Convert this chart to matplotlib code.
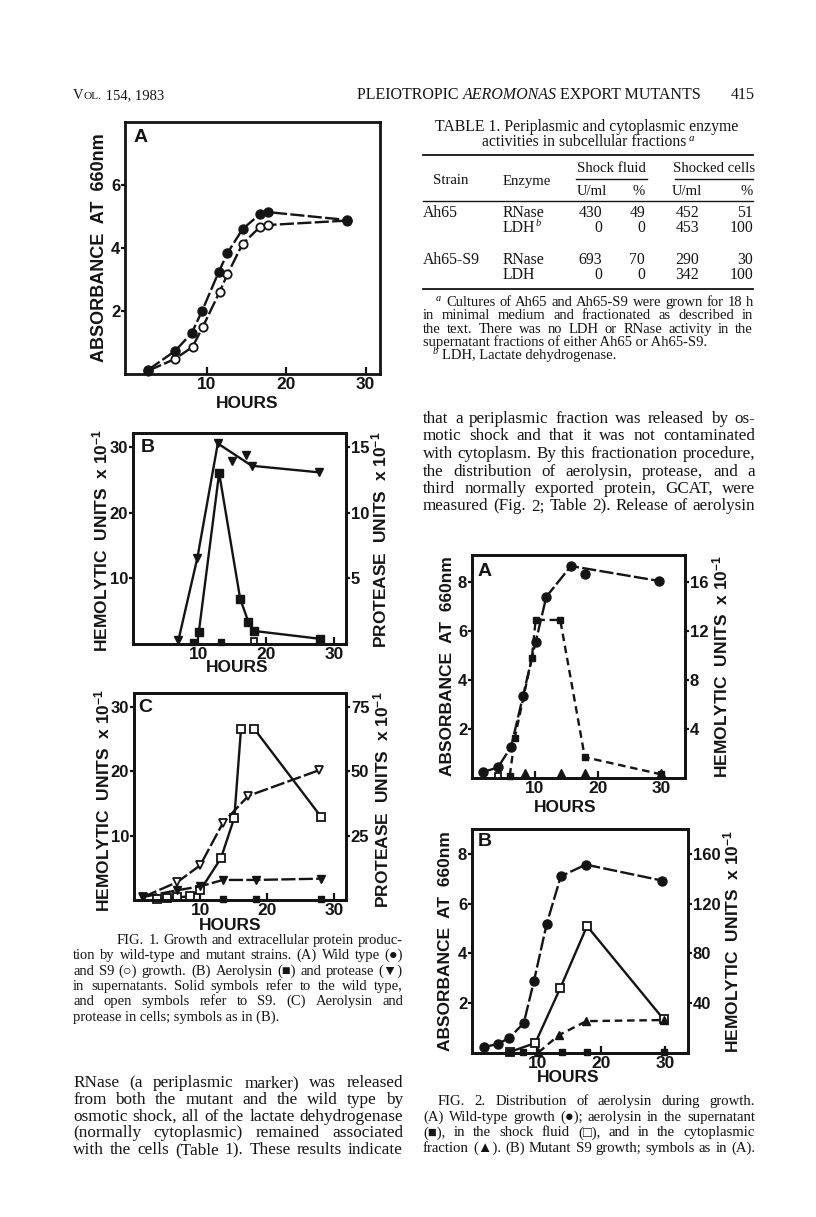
import matplotlib
matplotlib.use('Agg')
import matplotlib.pyplot as plt
from matplotlib.font_manager import FontProperties
from matplotlib.lines import Line2D

# ---------------- data ----------------
# Fig. 1A : growth, absorbance at 660 nm
f1a_x_wt = [2.6, 6.0, 8.1, 9.4, 11.5, 12.6, 14.5, 16.7, 17.7, 27.6]
f1a_y_wt = [0.13, 0.73, 1.3, 2.0, 3.24, 3.84, 4.6, 5.08, 5.14, 4.89]
f1a_x_s9 = [2.6, 6.0, 8.2, 9.5, 11.6, 12.6, 14.5, 16.7, 17.7, 27.6]
f1a_y_s9 = [0.1, 0.48, 0.86, 1.5, 2.6, 3.17, 4.13, 4.67, 4.73, 4.87]

# Fig. 1B : supernatants (aerolysin = hemolytic units, protease = right axis)
f1b_x_aero = [10.1, 13.1, 16.2, 17.4, 18.2, 27.9]
f1b_y_aero = [1.8, 26.1, 6.9, 3.4, 2.0, 0.8]
f1b_x_aero0 = [9.3, 13.4]
f1b_y_aero0 = [0.3, 0.3]
f1b_x_aero_s9 = [18.2]
f1b_y_aero_s9 = [0.4]
f1b_x_prot = [7.1, 9.9, 12.9, 17.9, 27.8]
f1b_y_prot = [0.3, 6.6, 15.3, 13.6, 13.1]
f1b_x_prot_extra = [15.0, 17.1]
f1b_y_prot_extra = [14.0, 14.4]

# Fig. 1C : cells
f1c_x_aero_s9 = [3.5, 5.0, 6.6, 8.5, 10.0, 13.1, 15.1, 16.1, 18.1, 28.1]
f1c_y_aero_s9 = [0.2, 0.3, 0.4, 0.6, 1.5, 6.5, 12.8, 26.6, 26.6, 12.9]
f1c_break = 8
f1c_x_aero_wt = [13.4, 18.4, 28.1]
f1c_y_aero_wt = [0.2, 0.2, 0.2]
f1c_x_prot_s9 = [1.5, 6.6, 10.0, 13.4, 17.2, 27.8]
f1c_y_prot_s9 = [1.2, 7.0, 13.5, 30.0, 40.5, 50.5]
f1c_x_prot_wt = [1.5, 6.6, 10.0, 13.4, 18.4, 28.1]
f1c_y_prot_wt = [1.2, 3.8, 5.3, 7.8, 7.8, 8.3]

# Fig. 2A : wild type
f2a_x_growth = [1.8, 4.1, 6.2, 8.1, 10.1, 11.8, 15.7, 29.7]
f2a_y_growth = [0.25, 0.43, 1.27, 3.35, 5.55, 7.4, 8.65, 8.04]
f2a_x_growth_extra = [17.9]
f2a_y_growth_extra = [8.33]
f2a_x_super = [6.0, 6.8, 9.5, 10.1, 14.0, 17.9, 30.0]
f2a_y_super = [0.2, 3.3, 9.8, 12.9, 12.9, 1.7, 0.3]
f2a_x_shock = [4.1]
f2a_y_shock = [0.2]
f2a_x_cyto = [8.4, 14.1, 17.9, 30.0]
f2a_y_cyto = [0.4, 0.4, 0.4, 0.4]

# Fig. 2B : mutant S9
f2b_x_growth = [1.7, 3.8, 5.6, 7.9, 9.5, 11.5, 13.7, 17.6, 29.5]
f2b_y_growth = [0.24, 0.36, 0.6, 1.2, 2.9, 5.2, 7.1, 7.57, 6.93]
f2b_x_shock = [5.8, 9.7, 13.6, 17.8, 29.8]
f2b_y_shock = [1.0, 8.0, 52.0, 102.0, 27.0]
f2b_x_cyto = [10.2, 13.4, 17.7, 29.8]
f2b_y_cyto = [0.5, 14.4, 25.6, 26.5]
f2b_x_super = [5.8, 7.8, 13.9, 17.8, 29.8]
f2b_y_super = [0.8, 0.8, 0.8, 0.8, 0.8]

# Table 1
tab_strain = ['Ah65', '', 'Ah65-S9', '']
tab_enzyme = ['RNase', 'LDH', 'RNase', 'LDH']
tab_shock_u = ['430', '0', '693', '0']
tab_shock_p = ['49', '0', '70', '0']
tab_cells_u = ['452', '453', '290', '342']
tab_cells_p = ['51', '100', '30', '100']

hour_ticks = [10, 20, 30]

# ---------------- page ----------------
W, H = 816, 1217
plt.rcParams['font.family'] = ['Liberation Sans', 'DejaVu Sans']
plt.rcParams['font.weight'] = 'bold'
plt.rcParams['mathtext.fontset'] = 'custom'
plt.rcParams['mathtext.rm'] = 'Liberation Sans:bold'
plt.rcParams['mathtext.bf'] = 'Liberation Sans:bold'
plt.rcParams['mathtext.it'] = 'Liberation Sans:bold'

fig = plt.figure(figsize=(W / 100, H / 100), dpi=100)
fig.patch.set_facecolor('white')
renderer = fig.canvas.get_renderer()

SERIF = ['Liberation Serif', 'DejaVu Serif', 'DejaVu Sans']
INK = '#141414'


def fp(size, style='normal', weight='normal'):
    return FontProperties(family=SERIF, size=size, style=style, weight=weight)


def width(s, prop):
    return renderer.get_text_width_height_descent(s, prop, ismath=False)[0]


def fit(s, target, style='normal'):
    # font size that makes s span target pixels
    return 10 * target / width(s, fp(10, style))


def put(x, y, s, prop, ha='left'):
    fig.text(x / W, 1 - y / H, s, fontproperties=prop, ha=ha, va='baseline', color=INK)


def para(lines, x0, x1, y0, lead, indent=0, last_full=False, shrink=0.99):
    full = [i for i in range(len(lines)) if i < len(lines) - 1 or last_full]
    size = min(10 * (x1 - x0 - (indent if i == 0 else 0)) / width(lines[i], fp(10))
               for i in full) * shrink
    prop = fp(size)
    for i, line in enumerate(lines):
        y = y0 + i * lead
        start = x0 + (indent if i == 0 else 0)
        words = line.split()
        if i not in full or len(words) < 2:
            put(start, y, line, prop)
            continue
        ws = [width(w, prop) for w in words]
        gap = (x1 - start - sum(ws)) / (len(words) - 1)
        x = start
        for w, wd in zip(words, ws):
            put(x, y, w, prop)
            x += wd + gap
    return size


def hline(x0, x1, y, lw=1.0):
    fig.add_artist(Line2D([x0 / W, x1 / W], [1 - y / H, 1 - y / H],
                          transform=fig.transFigure, color=INK, lw=lw))


def sans(x, y, s, size, rot=0):
    fig.text(x / W, 1 - y / H, s, fontsize=size, fontweight='bold', rotation=rot,
             ha='center', va='center', color=INK)


def frame(box, xlim, ylim, yticks, rlim=None, rticks=None):
    l, t, r, b = box
    ax = fig.add_axes([l / W, 1 - b / H, (r - l) / W, (b - t) / H])
    ax.set_xlim(xlim)
    ax.set_ylim(ylim)
    ax.set_xticks(hour_ticks)
    ax.set_yticks(yticks)
    for s in ax.spines.values():
        s.set_linewidth(2.0)
        s.set_color(INK)
    ax.tick_params(axis='x', direction='in', length=5, width=1.6, pad=2, labelsize=12.5, colors=INK)
    ax.tick_params(axis='y', direction='out', length=3, width=1.6, pad=0.5, labelsize=12, colors=INK)
    ax2 = None
    if rlim is not None:
        ax2 = ax.twinx()
        ax2.set_ylim(rlim)
        ax2.set_yticks(rticks)
        for s in ax2.spines.values():
            s.set_linewidth(2.0)
            s.set_color(INK)
        ax2.tick_params(axis='y', direction='out', length=3, width=1.6, pad=0.5, labelsize=12, colors=INK)
    return ax, ax2


filled = dict(color=INK, mfc=INK, mec=INK, lw=1.7, clip_on=False)
opened = dict(color=INK, mfc='white', mec=INK, mew=1.3, lw=1.7, clip_on=False)
LONG = (6, 1.4)
MID = (3.2, 2.0)

# ----- header -----
vs = 10.5
put(73, 99, 'V', fp(vs))
put(73 + width('V', fp(vs)), 99, 'OL.', fp(vs * 0.78))
put(73 + width('V', fp(vs)) + width('OL.', fp(vs * 0.78)), 99, ' 154, 1983', fp(vs))
head = [('PLEIOTROPIC ', 'normal'), ('AEROMONAS', 'italic'), (' EXPORT MUTANTS', 'normal')]
hs = 10 * 346 / sum(width(p, fp(10, st)) for p, st in head)
hx = 357
for piece, st in head:
    put(hx, 99, piece, fp(hs, st))
    hx += width(piece, fp(hs, st))
put(755, 99, '415', fp(hs), ha='right')

# ----- Fig 1A -----
ax, _ = frame((125, 122, 380, 374), (-0.3, 31.8), (0, 8), [2, 4, 6])
ax.plot(f1a_x_s9, f1a_y_s9, marker='o', ms=6, dashes=LONG, **opened)
ax.plot(f1a_x_wt, f1a_y_wt, marker='o', ms=6.5, dashes=LONG, **filled)
sans(141, 137, 'A', 14)
sans(99, 248, 'ABSORBANCE  AT  660nm', 13, 90)
sans(247, 404, 'HOURS', 12.5)

# ----- Fig 1B -----
ax, ax2 = frame((133, 433, 346, 644), (0.4, 31.8), (0, 32.2), [10, 20, 30],
                (0, 16.1), [5, 10, 15])
ax.plot(f1b_x_aero, f1b_y_aero, marker='s', ms=5.5, **filled)
ax.plot(f1b_x_aero0, f1b_y_aero0, marker='s', ms=5, ls='none', **filled)
ax.plot(f1b_x_aero_s9, f1b_y_aero_s9, marker='s', ms=5, ls='none', **opened)
ax2.plot(f1b_x_prot, f1b_y_prot, marker='v', ms=6, **filled)
ax2.plot(f1b_x_prot_extra, f1b_y_prot_extra, marker='v', ms=6, ls='none', **filled)
sans(148, 447, 'B', 14)
sans(100, 540, r'HEMOLYTIC  UNITS  x 10$^{-1}$', 12.5, 90)
sans(379, 540, r'PROTEASE  UNITS  x 10$^{-1}$', 12.5, 90)
sans(237, 668, 'HOURS', 12.5)

# ----- Fig 1C -----
ax, ax2 = frame((134, 693, 346, 900), (0.1, 31.8), (0, 32.2), [10, 20, 30],
                (0, 80.5), [25, 50, 75])
ax.plot(f1c_x_aero_s9[:f1c_break], f1c_y_aero_s9[:f1c_break], marker='s', ms=5.5, **opened)
ax.plot(f1c_x_aero_s9[f1c_break:], f1c_y_aero_s9[f1c_break:], marker='s', ms=5.5, **opened)
ax.plot(f1c_x_aero_wt, f1c_y_aero_wt, marker='s', ms=5, ls='none', **filled)
ax2.plot(f1c_x_prot_s9, f1c_y_prot_s9, marker='v', ms=6, dashes=LONG, **opened)
ax2.plot(f1c_x_prot_wt, f1c_y_prot_wt, marker='v', ms=6, dashes=LONG, **filled)
sans(145, 708, 'C', 14)
sans(102, 800, r'HEMOLYTIC  UNITS  x 10$^{-1}$', 12.5, 90)
sans(381, 800, r'PROTEASE  UNITS  x 10$^{-1}$', 12.5, 90)
sans(230, 925, 'HOURS', 12.5)

# ----- Fig 2A -----
ax, ax2 = frame((472, 555, 685, 778), (0, 33.8), (0, 9.1), [2, 4, 6, 8],
                (0, 18.2), [4, 8, 12, 16])
ax.plot(f2a_x_growth, f2a_y_growth, marker='o', ms=6.5, dashes=LONG, **filled)
ax.plot(f2a_x_growth_extra, f2a_y_growth_extra, marker='o', ms=6.5, ls='none', **filled)
ax2.plot(f2a_x_super, f2a_y_super, marker='s', ms=5, dashes=MID, **filled)
ax2.plot(f2a_x_shock, f2a_y_shock, marker='s', ms=5, ls='none', **opened)
ax2.plot(f2a_x_cyto, f2a_y_cyto, marker='^', ms=6, ls='none', **filled)
sans(485, 571, 'A', 14)
sans(447, 666, 'ABSORBANCE  AT  660nm', 12.5, 90)
sans(720, 666, r'HEMOLYTIC  UNITS  x 10$^{-1}$', 12.5, 90)
sans(565, 808, 'HOURS', 12.5)

# ----- Fig 2B -----
ax, ax2 = frame((472, 829, 688, 1053), (-0.2, 33.6), (0, 9.0), [2, 4, 6, 8],
                (0, 180), [40, 80, 120, 160])
ax.plot(f2b_x_growth, f2b_y_growth, marker='o', ms=6.5, dashes=LONG, **filled)
ax2.plot(f2b_x_shock, f2b_y_shock, marker='s', ms=5.5, **opened)
ax2.plot(f2b_x_cyto, f2b_y_cyto, marker='^', ms=6, dashes=MID, **filled)
ax2.plot(f2b_x_super, f2b_y_super, marker='s', ms=5, ls='none', **filled)
sans(485, 842, 'B', 14)
sans(446, 941, 'ABSORBANCE  AT  660nm', 12.5, 90)
sans(731, 941, r'HEMOLYTIC  UNITS  x 10$^{-1}$', 12.5, 90)
sans(568, 1078, 'HOURS', 12.5)

# ----- Table 1 -----
t1 = 'TABLE 1. Periplasmic and cytoplasmic enzyme'
ts = fit(t1, 303)
tf = fp(ts)
put(587, 131, t1, tf, ha='center')
t2 = 'activities in subcellular fractions'
w2 = width(t2, tf)
put(587 - w2 / 2 - 3, 146, t2, tf)
put(587 + w2 / 2 - 1, 141, 'a', fp(ts * 0.7, 'italic'))
hline(423, 753, 155, 1.3)
hf = fp(10.6)
put(611, 172, 'Shock fluid', hf, ha='center')
put(714, 172, 'Shocked cells', hf, ha='center')
hline(576, 647, 179, 1.0)
hline(675, 753, 179, 1.0)
put(433, 184, 'Strain', hf)
put(503, 185, 'Enzyme', hf)
put(592, 195, 'U/ml', hf, ha='center')
put(645, 195, '%', hf, ha='right')
put(687, 195, 'U/ml', hf, ha='center')
put(753, 195, '%', hf, ha='right')
hline(423, 753, 201, 1.0)
row_y = [217, 232, 264, 279]
bf = fp(11.3)
for i, y in enumerate(row_y):
    put(423, y, tab_strain[i], bf)
    put(503, y, tab_enzyme[i], bf)
    put(602, y, tab_shock_u[i], bf, ha='right')
    put(645, y, tab_shock_p[i], bf, ha='right')
    put(699, y, tab_cells_u[i], bf, ha='right')
    put(753, y, tab_cells_p[i], bf, ha='right')
put(503 + width('LDH', bf) + 0.5, 226, 'b', fp(7.5, 'italic'))
hline(423, 753, 289, 1.3)

ns = para(['Cultures of Ah65 and Ah65-S9 were grown for 18 h',
           'in minimal medium and fractionated as described in',
           'the text. There was no LDH or RNase activity in the',
           'supernatant fractions of either Ah65 or Ah65-S9.'],
          423, 753, 306, 13.4, indent=23)
put(436, 301, 'a', fp(ns * 0.7, 'italic'))
put(433, 354, 'b', fp(ns * 0.7, 'italic'))
put(442, 359, 'LDH, Lactate dehydrogenase.', fp(ns))

# ----- right column body -----
para(['that a periplasmic fraction was released by os-',
      'motic shock and that it was not contaminated',
      'with cytoplasm. By this fractionation procedure,',
      'the distribution of aerolysin, protease, and a',
      'third normally exported protein, GCAT, were',
      'measured (Fig. 2; Table 2). Release of aerolysin'],
     423, 755, 423, 17.5, last_full=True)

# ----- Fig 2 caption -----
para(['FIG. 2. Distribution of aerolysin during growth.',
      '(A) Wild-type growth (\u25cf); aerolysin in the supernatant',
      '(\u25a0), in the shock fluid (\u25a1), and in the cytoplasmic',
      'fraction (\u25b2). (B) Mutant S9 growth; symbols as in (A).'],
     423, 755, 1105, 15.7, indent=15, last_full=True)

# ----- Fig 1 caption -----
para(['FIG. 1. Growth and extracellular protein produc-',
      'tion by wild-type and mutant strains. (A) Wild type (\u25cf)',
      'and S9 (\u25cb) growth. (B) Aerolysin (\u25a0) and protease (\u25bc)',
      'in supernatants. Solid symbols refer to the wild type,',
      'and open symbols refer to S9. (C) Aerolysin and',
      'protease in cells; symbols as in (B).'],
     73, 403, 944, 15.3, indent=44)

# ----- left column body -----
para(['RNase (a periplasmic marker) was released',
      'from both the mutant and the wild type by',
      'osmotic shock, all of the lactate dehydrogenase',
      '(normally cytoplasmic) remained associated',
      'with the cells (Table 1). These results indicate'],
     73, 403, 1087, 16.8, last_full=True)

fig.savefig('out.png', dpi=100, facecolor='white')
